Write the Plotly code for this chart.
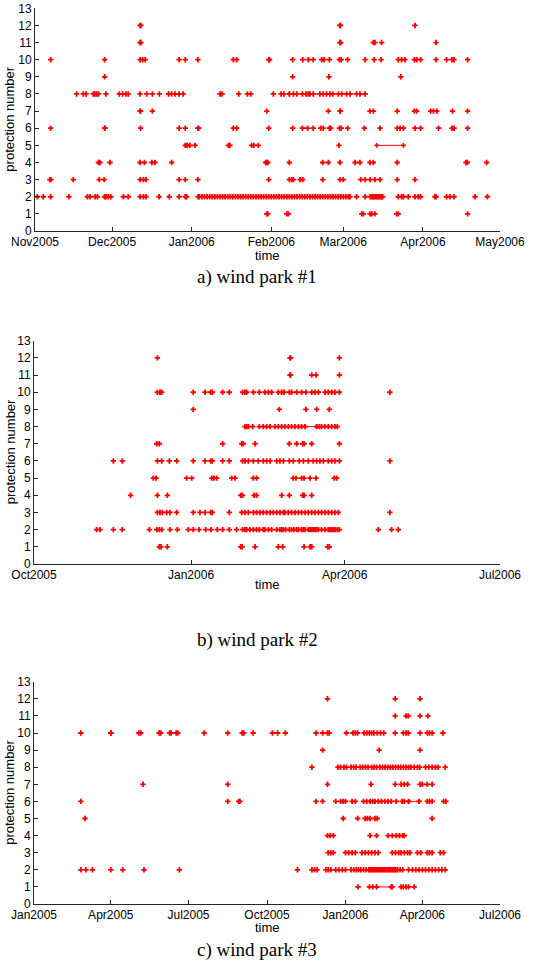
import pandas as pd
import plotly.graph_objects as go

# ---------------- data (days after each panel's start date) ----------------
A_START = "2005-11-01"
a12 = [40.9, 41.2, 118.7, 118.9, 147.9]
a11 = [40.9, 41.2, 118.7, 119.0, 131.7, 132.3, 134.9, 156.1]
a10 = [6.1, 27.1, 40.9, 41.9, 42.9, 56.1, 58.5, 63.4, 77.2, 78.5, 91.0, 91.3, 100.3, 104.2, 106.4, 108.3,
       111.6, 112.5, 114.6, 118.5, 119.2, 121.7, 128.5, 132.0, 134.7, 141.4, 142.7, 144.0, 147.7, 148.6,
       150.1, 156.1, 160.2, 162.3, 163.1, 168.4]
a9 = [27.1, 100.3, 114.4, 142.4]
a8 = [16.2, 18.8, 19.9, 22.7, 23.3, 24.0, 24.7, 27.6, 32.8, 34.1, 35.4, 36.3, 40.9, 43.5, 45.7, 48.4, 52.0,
      53.2, 54.5, 56.1, 57.7, 72.0, 72.8, 79.3, 82.7, 84.0, 92.8, 95.8, 96.9, 99.0, 100.6, 101.9, 104.1,
      105.5, 106.4, 107.0, 108.3, 110.9, 112.2, 113.5, 114.8, 115.9, 118.1, 119.4, 121.3, 122.6, 125.2,
      126.5, 128.5]
a7 = [40.9, 41.1, 45.7, 90.2, 114.2, 118.7, 118.9, 130.4, 131.7, 141.0, 147.7, 148.6, 154.0, 155.1, 156.4,
      162.5, 168.4]
a6 = [6.1, 27.1, 27.3, 41.1, 56.1, 58.5, 63.4, 63.7, 77.2, 78.5, 91.0, 100.3, 104.1, 106.1, 108.3, 111.2,
      112.2, 114.6, 115.1, 118.5, 119.2, 121.7, 128.2, 134.3, 141.0, 142.1, 143.4, 147.9, 150.1, 157.1,
      162.3, 163.1, 168.4]
a5 = [58.5, 59.0, 59.3, 60.3, 62.3, 75.3, 75.9, 84.3, 85.2, 86.9, 118.3]
a4 = [24.7, 25.3, 29.2, 40.9, 42.6, 45.5, 46.7, 53.2, 89.8, 90.2, 90.6, 99.0, 112.0, 114.2, 118.7, 124.6,
      126.5, 130.4, 131.7, 141.0, 167.8, 168.3, 175.8]
a3 = [5.8, 6.2, 14.9, 25.0, 26.9, 40.9, 42.2, 43.2, 56.1, 58.5, 63.4, 91.0, 99.0, 99.9, 100.6, 103.2, 104.2,
      112.0, 118.7, 120.0, 126.8, 128.5, 130.4, 132.3, 134.3, 141.0, 147.9]
a2 = [0.9, 3.2, 6.1, 13.2, 20.4, 21.4, 23.4, 24.3, 27.1, 27.6, 28.5, 29.5, 34.4, 36.3, 40.9, 42.2, 43.2,
      48.3, 52.3, 56.1, 58.5, 59.0,
      63.5, 64, 65, 66, 67, 68, 69, 70, 71, 72, 73, 74, 75, 76, 77, 78, 79, 80, 81, 82, 83, 84, 85, 86, 87,
      88, 89, 90, 91, 92, 93, 94, 95, 96, 97, 98, 99, 100, 101, 102, 103, 104, 105, 106, 107, 108, 109,
      110, 111, 112, 113, 114, 115, 116, 117, 118, 119, 120, 121, 122, 122.6,
      125.2, 128.5, 130.5, 131, 131.5, 132, 132.5, 133, 133.5, 134, 134.5, 135, 135.3,
      141.4, 142.7, 143.4, 145.3, 147.9, 149.2, 150.1, 155.7, 156.1, 160.2, 161.5, 163.1, 171.3, 176.1]
a1 = [90.2, 90.6, 98.0, 98.6, 127.2, 127.8, 130.4, 131.1, 132.3, 140.8, 141.4, 168.4]
a_seg_level = [5, 8, 8]
a_seg_start = [133.0, 99.0, 52.0]
a_seg_end = [143.4, 128.5, 56.1]

B_START = "2005-10-01"
b12 = [72.3, 150.0, 150.3, 178.9]
b11 = [150.0, 150.3, 162.7, 165.2, 178.9]
b10 = [72.3, 73.8, 74.8, 93.3, 100.2, 103.5, 104.5, 110.5, 114.4, 122.2, 123.6, 124.6, 128.5, 132.0, 135.3,
       137.3, 139.2, 143.1, 145.1, 146.5, 149.6, 150.9, 153.9, 156.8, 159.3, 162.7, 164.6, 166.6, 170.5,
       172.4, 174.4, 176.3, 178.9, 208.5]
b9 = [93.3, 143.7, 159.3, 165.6, 173.0]
b8 = [123.6, 124.6, 125.6, 128.1, 132.0, 134.3, 136.3, 138.3, 141.2, 143.1, 145.1, 147.0, 149.0, 150.9,
      152.9, 154.9, 156.8, 158.8, 165.6, 167.2, 168.5, 170.5, 172.4, 174.4, 176.3, 177.7]
b7 = [71.9, 73.4, 110.5, 121.7, 122.6, 129.5, 149.6, 153.9, 157.4, 158.2, 162.7, 178.9]
b6 = [46.5, 51.7, 72.3, 74.8, 79.3, 83.6, 93.3, 100.2, 103.5, 104.5, 110.5, 114.4, 122.2, 123.6, 125.6,
      128.5, 131.4, 134.3, 136.3, 138.3, 142.2, 144.1, 146.1, 149.6, 151.9, 155.4, 157.8, 160.7, 163.6,
      165.6, 167.5, 169.5, 172.4, 174.4, 176.3, 178.9, 208.5]
b5 = [69.9, 71.5, 89.4, 92.4, 104.1, 105.4, 107.0, 115.8, 117.8, 128.5, 130.4, 151.9, 153.5, 156.8, 158.2,
      161.7, 165.2, 175.9, 177.3]
b4 = [56.6, 72.3, 78.1, 121.1, 122.2, 128.9, 130.4, 145.1, 149.6, 157.4, 158.2, 162.7]
b3 = [72.3, 73.8, 75.2, 77.7, 79.7, 83.6, 93.3, 97.2, 100.2, 103.5, 104.5, 114.4, 121.7, 123.6, 125.6,
      128.5, 130.4, 132.4, 134.3, 136.3, 138.3, 140.2, 142.2, 144.1, 146.1, 147.0, 149.0, 150.9, 152.9,
      154.9, 156.8, 158.8, 160.7, 162.7, 164.6, 166.6, 168.5, 170.5, 172.4, 174.4, 176.3, 178.3, 208.5]
b2 = [36.7, 38.7, 46.5, 51.7, 67.6, 71.9, 73.4, 74.8, 79.7, 84.0, 90.4, 93.3, 96.7, 100.6, 103.7, 107.4,
      110.5, 114.4, 118.7, 122.2, 123.6, 124.6, 126.5, 128.5, 130.4, 132.0, 134.3, 135.3, 137.3, 139.2,
      142.2, 144.1, 145.1, 146.1, 147.5, 149.6, 150.9, 152.3, 153.9, 155.0, 156.8, 157.8, 158.8, 160.7,
      161.7, 162.7, 163.6, 164.6, 165.6, 166.6, 168.5, 170.5, 172.4, 173.4, 174.4, 175.4, 176.3, 177.7,
      178.9, 201.7, 209.5, 213.4]
b1 = [73.4, 74.4, 78.1, 121.1, 121.9, 129.5, 143.1, 145.7, 158.2, 161.7, 162.7, 172.0, 173.0]
b_seg_level = [8]
b_seg_start = [158.8]
b_seg_end = [165.6]

C_START = "2005-01-01"
c12 = [343.9, 423.2, 452.3]
c11 = [423.2, 435.9, 438.5, 452.3, 461.5]
c10 = [54.9, 90.0, 90.3, 122.8, 125.1, 146.6, 148.5, 159.0, 160.6, 166.6, 168.5, 199.4, 227.0, 243.9, 245.8,
       256.8, 279.4, 285.4, 294.5, 330.5, 338.2, 343.9, 345.9, 366.1, 373.8, 376.5, 379.2, 386.8, 389.9,
       392.9, 395.6, 398.3, 402.2, 406.0, 409.8, 423.2, 432.8, 435.9, 438.5, 452.3, 460.8, 463.4, 466.5,
       479.1]
c9 = [338.2, 404.4, 452.3]
c8 = [325.6, 356.2, 359.3, 363.1, 366.1, 371.5, 374.6, 377.3, 382.2, 385.3, 388.4, 391.4, 395.6, 398.3,
      401.4, 405.2, 408.3, 411.3, 414.4, 417.5, 420.5, 423.6, 426.7, 429.7, 432.8, 435.9, 438.9, 441.6,
      445.4, 449.3, 451.9, 458.8, 462.7, 466.5, 470.3, 473.4, 481.8]
c7 = [127.7, 227.0, 343.9, 394.9, 423.2, 430.1, 433.9, 437.8, 452.3, 455.0, 460.8, 466.5]
c6 = [54.9, 227.0, 239.8, 241.3, 330.5, 338.2, 353.5, 359.3, 362.3, 365.0, 372.7, 376.5, 386.1, 389.9,
      393.7, 396.8, 399.5, 403.3, 407.1, 411.0, 414.8, 418.6, 424.4, 431.3, 433.9, 438.9, 451.2, 460.8,
      463.4, 466.5, 479.9, 482.6]
c5 = [59.8, 362.3, 379.2, 388.0, 390.7, 393.7, 399.5, 402.2, 466.5]
c4 = [343.9, 347.0, 350.8, 393.7, 401.4, 414.8, 419.8, 424.4, 428.2, 432.0, 433.9]
c3 = [344.7, 347.8, 350.8, 365.0, 368.8, 372.7, 376.5, 384.2, 388.0, 391.8, 395.6, 399.5, 403.3, 419.8,
      423.6, 427.4, 430.1, 433.9, 437.8, 440.5, 449.3, 453.1, 460.8, 463.4, 466.5, 476.1, 479.9]
c2 = [54.9, 60.9, 68.5, 90.0, 104.0, 128.9, 170.4, 308.7, 325.6, 328.6, 331.7, 342.0, 344.7, 347.8, 353.5,
      357.3, 361.2, 365.0, 371.5, 374.6, 377.6, 380.3, 383.0, 386.1, 389.1, 392.2, 394.0, 395.3, 397.0,
      398.3, 400.0, 401.4, 403.0, 404.4, 406.0, 407.5, 409.0, 410.6, 412.0, 413.6, 415.0, 416.7, 418.0,
      419.8, 421.0, 422.8, 424.0, 425.9, 429.0, 432.0, 438.9, 443.5, 447.3, 451.2, 455.0, 458.8, 462.7,
      466.5, 470.3, 474.2, 478.0, 481.8]
c1 = [379.6, 393.0, 396.8, 401.4, 418.6, 419.8, 430.1, 432.8, 435.9, 438.9, 445.4]
c_seg_level = [1, 6]
c_seg_start = [401.4, 438.9]
c_seg_end = [418.6, 451.2]

Y_TICKS = list(range(0, 14))
A_XTICKS = ["2005-11-01", "2005-12-01", "2006-01-01", "2006-02-01", "2006-03-01", "2006-04-01", "2006-05-01"]
B_XTICKS = ["2005-10-01", "2006-01-01", "2006-04-01", "2006-07-01"]
C_XTICKS = ["2005-01-01", "2005-04-01", "2005-07-01", "2005-10-01", "2006-01-01", "2006-04-01", "2006-07-01"]
CAPTIONS = ["a) wind park #1", "b) wind park #2", "c) wind park #3"]

panels = [
    (A_START, [a1, a2, a3, a4, a5, a6, a7, a8, a9, a10, a11, a12], a_seg_level, a_seg_start, a_seg_end, A_XTICKS),
    (B_START, [b1, b2, b3, b4, b5, b6, b7, b8, b9, b10, b11, b12], b_seg_level, b_seg_start, b_seg_end, B_XTICKS),
    (C_START, [c1, c2, c3, c4, c5, c6, c7, c8, c9, c10, c11, c12], c_seg_level, c_seg_start, c_seg_end, C_XTICKS),
]

# ---------------- layout geometry (pixels) ----------------
W, H = 541, 968
plot_boxes = [  # (x0, x1, ytop, ybottom)
    (35, 500, 8.3, 231),
    (34, 500, 340.7, 564),
    (34, 500, 681.7, 904),
]
time_y = [255, 584, 927]
caption_y = [277, 640, 950]

RED = "#ff0000"
AXC = "#262626"
FONT = "Arial, Liberation Sans, sans-serif"

fig = go.Figure()
layout = dict(width=W, height=H, margin=dict(l=0, r=0, t=0, b=0, autoexpand=False),
              paper_bgcolor="white", plot_bgcolor="white", showlegend=False,
              font=dict(family=FONT, size=12, color="black"))
annotations = []

for i, (start, level_lists, sl, ss, se, xticks) in enumerate(panels):
    sfx = "" if i == 0 else str(i + 1)
    base = pd.Timestamp(start)
    xs, ys = [], []
    for lvl, days in enumerate(level_lists, start=1):
        xs += list(base + pd.to_timedelta(days, unit="D"))
        ys += [lvl] * len(days)
    # event segments
    for lvl, s, e in zip(sl, ss, se):
        fig.add_trace(go.Scatter(
            x=[base + pd.Timedelta(days=s), base + pd.Timedelta(days=e)], y=[lvl, lvl],
            mode="lines+markers", line=dict(color=RED, width=1),
            marker=dict(symbol="cross", size=4, color=RED),
            xaxis="x" + sfx, yaxis="y" + sfx, hoverinfo="skip"))
    fig.add_trace(go.Scatter(
        x=xs, y=ys, mode="markers",
        marker=dict(symbol="cross", size=4.5, color=RED, line=dict(width=0)),
        xaxis="x" + sfx, yaxis="y" + sfx))

    x0, x1, yt, yb = plot_boxes[i]
    xdom = [x0 / W, x1 / W]
    ydom = [1 - yb / H, 1 - yt / H]
    layout["xaxis" + sfx] = dict(
        domain=xdom, anchor="y" + sfx, type="date", automargin=False,
        range=[xticks[0], xticks[-1]], tickvals=xticks, tickformat="%b%Y",
        showgrid=False, zeroline=False, showline=True, linecolor=AXC, linewidth=1,
        ticks="inside", ticklen=4, tickcolor=AXC, tickfont=dict(size=12, family=FONT, color="black"))
    layout["yaxis" + sfx] = dict(
        domain=ydom, anchor="x" + sfx, range=[0, 13], tickvals=Y_TICKS, automargin=False,
        showgrid=False, zeroline=False, showline=True, linecolor=AXC, linewidth=1,
        ticks="inside", ticklen=4, tickcolor=AXC, tickfont=dict(size=12, family=FONT, color="black"))

    annotations.append(dict(text="time", x=(x0 + x1) / 2 / W, y=1 - time_y[i] / H,
                            xref="paper", yref="paper", showarrow=False,
                            font=dict(size=13, family=FONT, color="black"),
                            xanchor="center", yanchor="middle"))
    annotations.append(dict(text="protection number", x=10 / W, y=1 - (yt + yb) / 2 / H,
                            xref="paper", yref="paper", showarrow=False, textangle=-90,
                            font=dict(size=13, family=FONT, color="black"),
                            xanchor="center", yanchor="middle"))
    annotations.append(dict(text=CAPTIONS[i], x=257 / W, y=1 - caption_y[i] / H,
                            xref="paper", yref="paper", showarrow=False,
                            font=dict(size=19, family="Liberation Serif, Times New Roman, serif",
                                      color="black"),
                            xanchor="center", yanchor="middle"))

layout["annotations"] = annotations
fig.update_layout(**layout)
fig.write_html("out.html")
